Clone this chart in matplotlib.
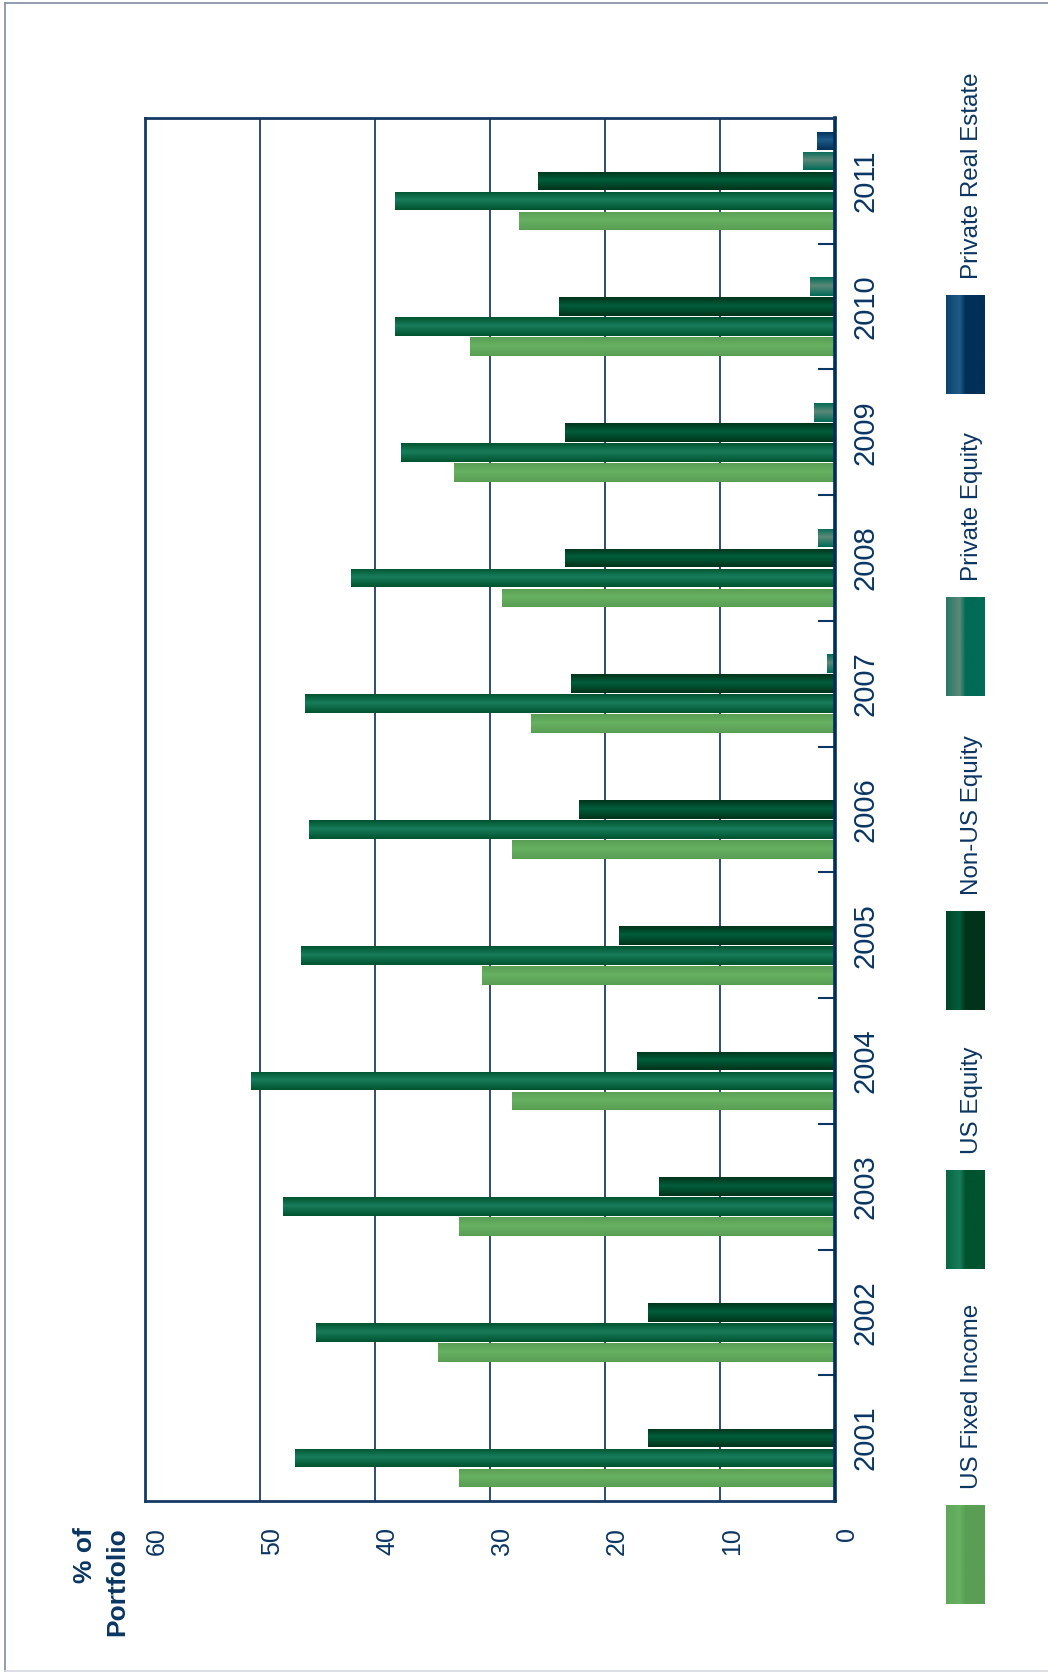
import numpy as np
import matplotlib
matplotlib.use("Agg")
import matplotlib.pyplot as plt
from matplotlib.colors import LinearSegmentedColormap
from matplotlib.lines import Line2D

plt.rcParams['font.family'] = ['Liberation Sans', 'DejaVu Sans']

years = ['2001', '2002', '2003', '2004', '2005', '2006',
         '2007', '2008', '2009', '2010', '2011']
us_fixed_income = [32.7, 34.5, 32.7, 28.1, 30.7, 28.1, 26.4, 29.0, 33.1, 31.7, 27.5]
us_equity = [47.0, 45.1, 48.0, 50.8, 46.4, 45.7, 46.1, 42.1, 37.7, 38.3, 38.3]
non_us_equity = [16.3, 16.3, 15.3, 17.2, 18.8, 22.3, 23.0, 23.5, 23.5, 24.0, 25.8]
private_equity = [0, 0, 0, 0, 0, 0, 0.7, 1.5, 1.8, 2.2, 2.8]
private_real_estate = [0, 0, 0, 0, 0, 0, 0, 0, 0, 0, 1.6]

series_names = ['US Fixed Income', 'US Equity', 'Non-US Equity',
                'Private Equity', 'Private Real Estate']
series_values = [us_fixed_income, us_equity, non_us_equity,
                 private_equity, private_real_estate]
# (edge colour, highlight colour) for the tube shading
series_colors = [('#599E54', '#67B162'),
                 ('#00532F', '#187D5B'),
                 ('#00331A', '#005E3C'),
                 ('#006B56', '#5C8979'),
                 ('#002F58', '#1F5C88')]

NAVY = '#0B3562'
W, H = 1048, 1672

fig = plt.figure(figsize=(W / 100, H / 100), dpi=100)
ax = fig.add_axes([145 / W, (H - 1501) / H, 690 / W, 1383 / H])

slot = 0.159
height = 0.148
y = np.arange(len(years))

for k, (vals, (edge, light)) in enumerate(zip(series_values, series_colors)):
    offset = (k - 2) * slot
    bars = ax.barh(y + offset, vals, height=height, color=edge, lw=0, zorder=2)
    cmap = LinearSegmentedColormap.from_list(
        'tube%d' % k, [(0, edge), (0.55, light), (1, edge)])
    grad = np.linspace(0, 1, 64).reshape(-1, 1)
    for b in bars:
        if b.get_width() <= 0:
            continue
        x0, y0 = b.get_x(), b.get_y()
        im = ax.imshow(grad, extent=(x0, x0 + b.get_width(), y0, y0 + b.get_height()),
                       cmap=cmap, aspect='auto', origin='lower', zorder=2.1,
                       interpolation='bilinear')
        im.set_clip_path(b)

ax.set_xlim(60, 0)
ax.set_ylim(-0.5, len(years) - 0.5)

# value axis along the bottom, labels turned sideways
ax.set_xticks(np.arange(0, 61, 10))
ax.tick_params(axis='x', length=0, pad=19, labelsize=18, labelcolor=NAVY,
               labelrotation=90)
for lbl in ax.get_xticklabels():
    lbl.set_horizontalalignment('left')
ax.xaxis.grid(True, color='#1E3F66', lw=1.3)
ax.set_axisbelow(True)

# years on the right, boundary ticks between groups
ax.yaxis.tick_right()
ax.set_yticks(y, labels=years)
ax.set_yticks(np.arange(0.5, len(years) - 1, 1), minor=True)
ax.tick_params(axis='y', which='major', length=0, pad=12, labelsize=21,
               labelcolor=NAVY, labelrotation=90)
for lbl in ax.get_yticklabels():
    lbl.set_verticalalignment('center')
ax.tick_params(axis='y', which='minor', left=False, right=True, direction='in',
               length=12, width=1.5, color=NAVY)

for side in ['left', 'top', 'bottom']:
    ax.spines[side].set_color('#163A63')
    ax.spines[side].set_linewidth(2)
ax.spines['right'].set_color('#002D5A')
ax.spines['right'].set_linewidth(2.6)
for s in ax.spines.values():
    s.set_zorder(3)

# overlay in pixel units for the legend, axis title and frame
ov = fig.add_axes([0, 0, 1, 1])
ov.axis('off')

ov.text(73, 1527, '% of\nPortfolio', rotation=90, rotation_mode='anchor',
        ha='right', va='top', multialignment='right', fontsize=19,
        fontweight='bold', color=NAVY, linespacing=1.42)

patch_tops = [1505, 1170, 911, 597, 295]
patch_h = 99
for name, (edge, light), top in zip(series_names, series_colors, patch_tops):
    mid = LinearSegmentedColormap.from_list('m', [edge, light])(0.45)
    cmap = LinearSegmentedColormap.from_list(
        'leg', [(0, mid), (0.35, light), (0.5, edge), (1, edge)])
    grad = np.linspace(0, 1, 64).reshape(1, -1)
    ov.imshow(grad, extent=(946, 985, top + patch_h, top), cmap=cmap, aspect='auto',
              interpolation='bilinear')
    ov.text(978, top - 16, name, rotation=90, rotation_mode='anchor',
            ha='left', va='baseline', fontsize=17.4, color=NAVY)

ov.set_xlim(0, W)
ov.set_ylim(H, 0)

# page frame
fig.add_artist(Line2D([4.5 / W, 4.5 / W], [0, 1 - 2.5 / H], color='#7F8EA3', lw=1.2))
fig.add_artist(Line2D([4.5 / W, 1], [1 - 2.5 / H, 1 - 2.5 / H], color='#7F8EA3', lw=1.2))
fig.add_artist(Line2D([4.5 / W, 1], [1 / H, 1 / H], color='#D5D7E0', lw=1.2))

fig.savefig('out.png', dpi=100)
